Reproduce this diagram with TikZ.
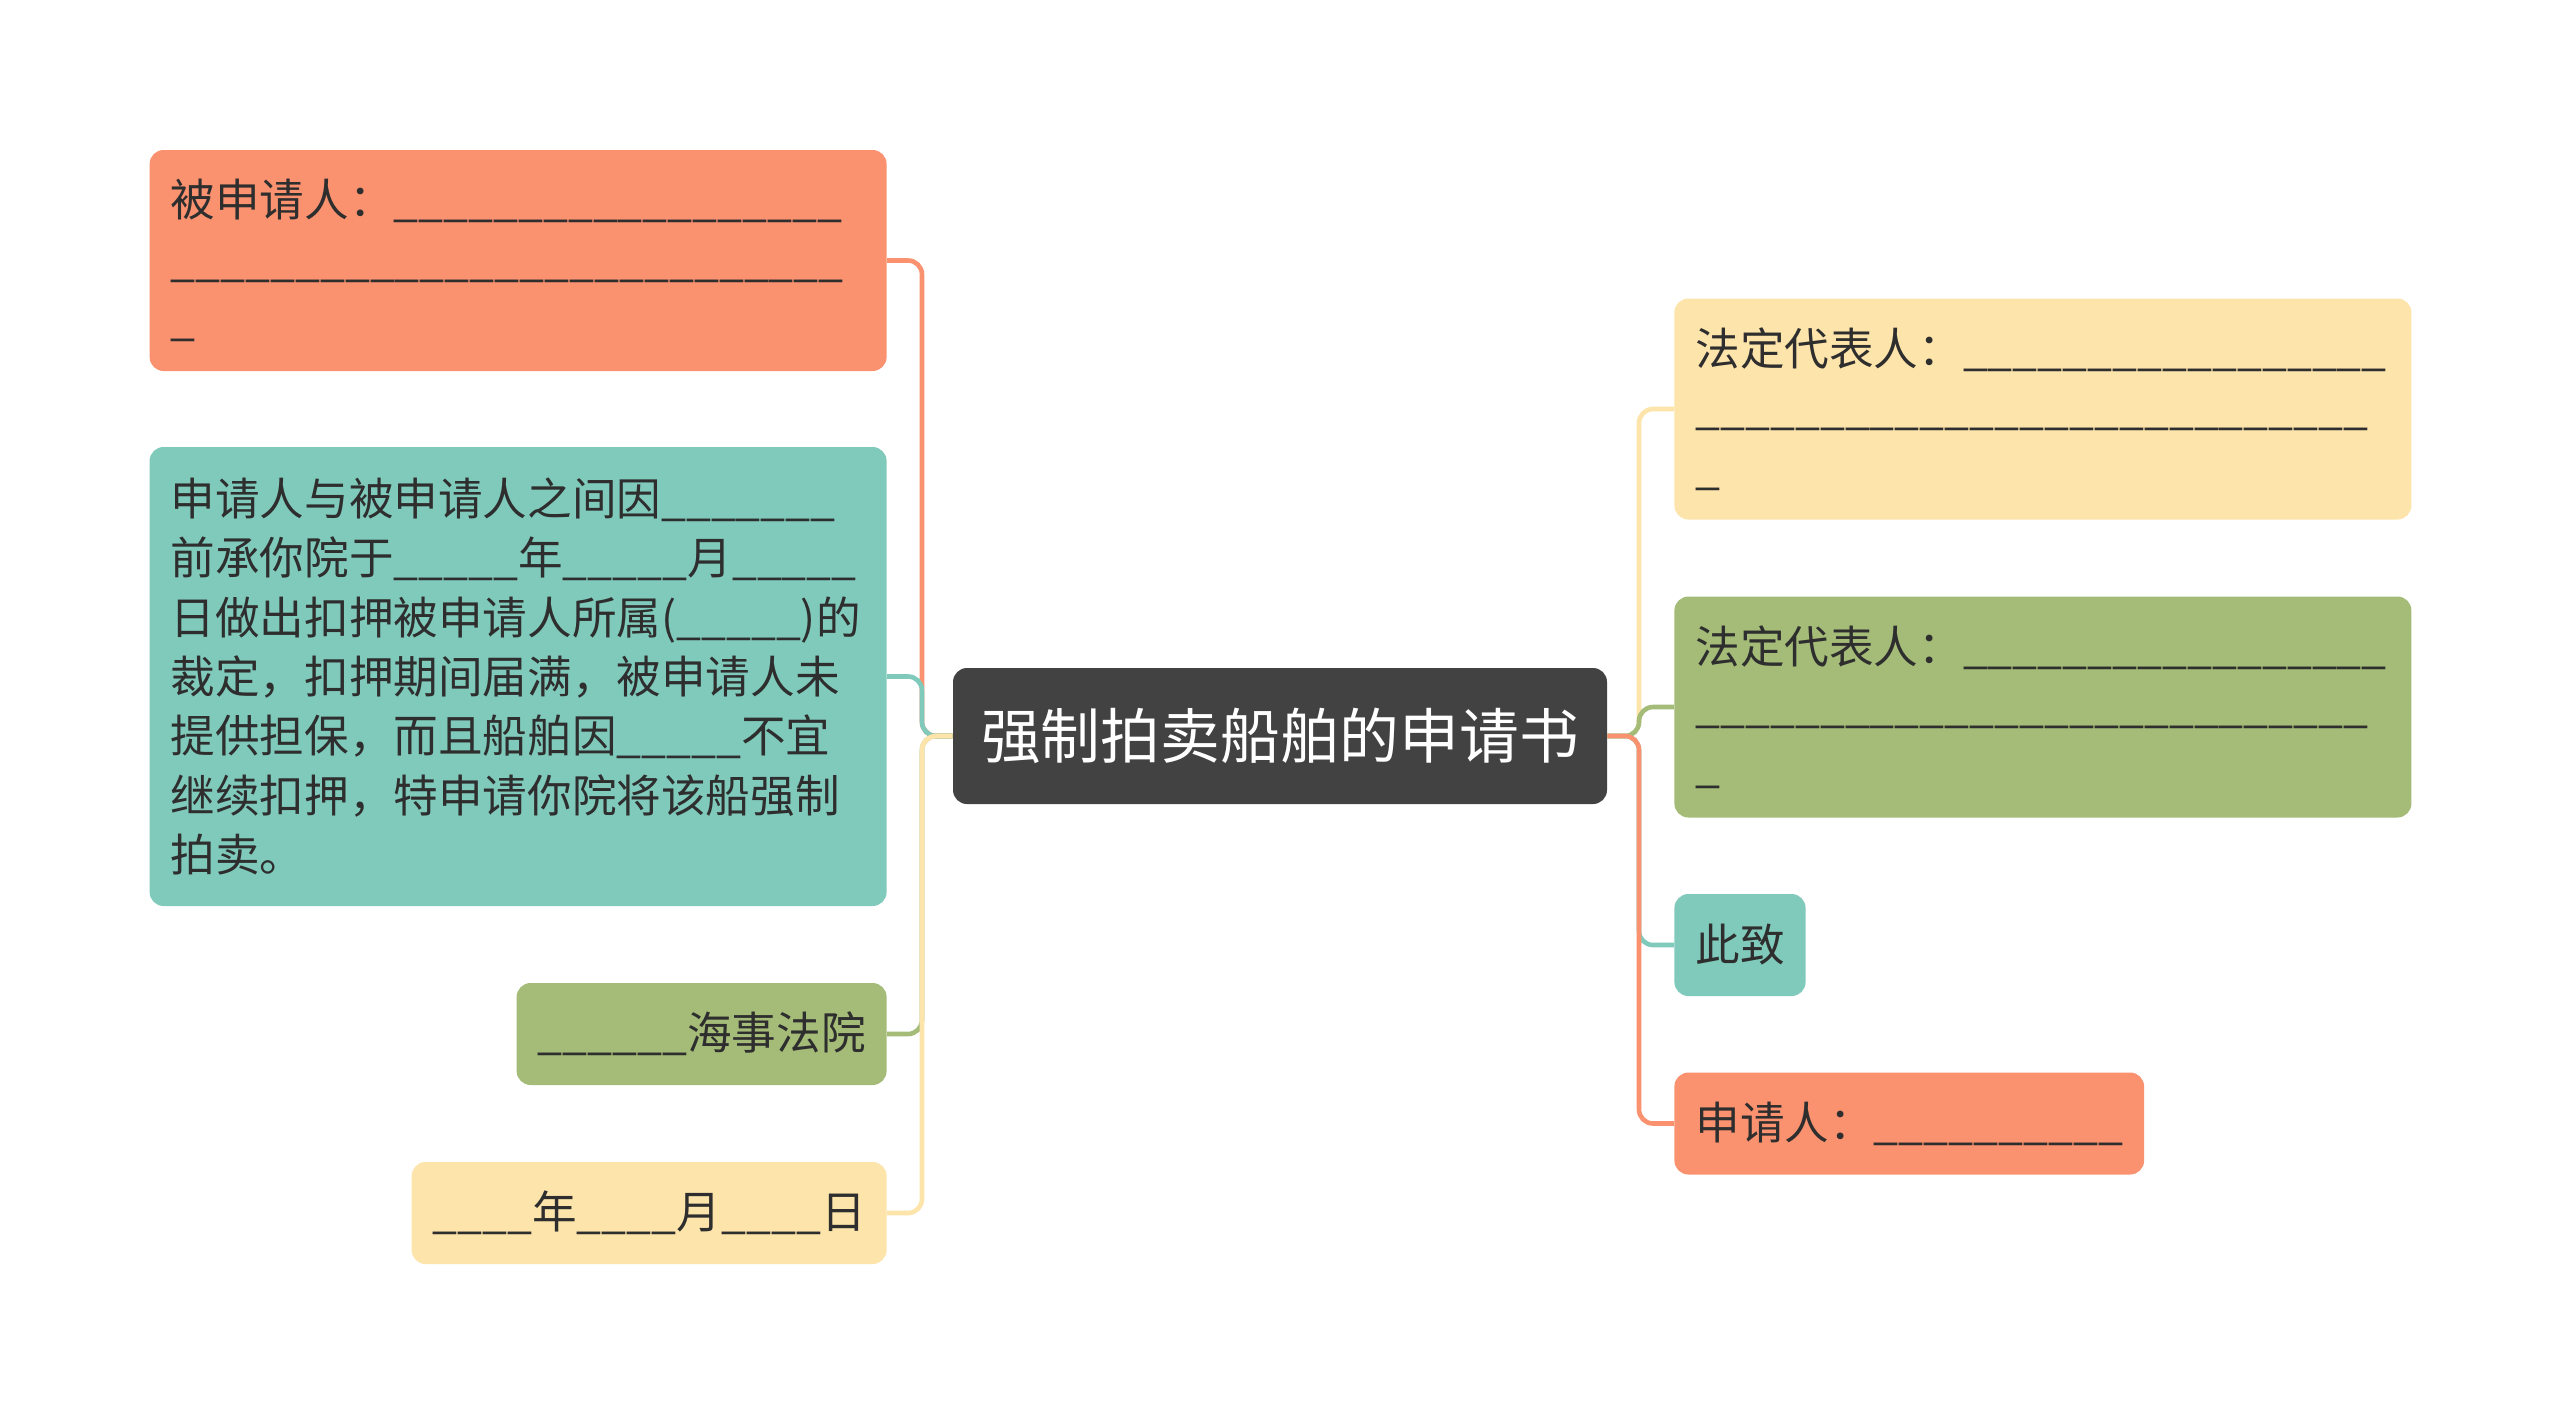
\documentclass[tikz,border=0pt]{standalone}
\usepackage{fontspec}
\newfontfamily\cjk{Noto Sans CJK SC}
\usepackage{tikz}

\definecolor{salmonc}{HTML}{FA9270}
\definecolor{tealc}{HTML}{80CABC}
\definecolor{greenc}{HTML}{A4BC78}
\definecolor{yellowc}{HTML}{FDE4AB}
\definecolor{rootc}{HTML}{424242}
\definecolor{textc}{HTML}{2E2E2E}

\newcommand{\fillin}[1]{\foreach \k in {1,...,#1}{\_}}

\tikzset{
  topic/.style={rectangle, rounded corners=7pt, text=textc, align=left,
    font=\cjk\fontsize{22.3}{29.7}\selectfont, inner xsep=10.5pt, inner ysep=0pt},
  bigtopic/.style={topic, text width=347.5pt, minimum height=110.5pt},
  smalltopic/.style={topic, minimum height=51pt},
  link/.style={line width=2.3pt, rounded corners=7pt},
}

\begin{document}
\begin{tikzpicture}[x=0.5pt, y=-0.5pt]
    \fill[white] (0,0) rectangle (2560,1414);
    \path[use as bounding box] (0,0) rectangle (2560,1414);

    % centre
    \node[rectangle, rounded corners=7pt, fill=rootc, text=white,
      font=\cjk\fontsize{29.9}{36}\selectfont,
      minimum width=327pt, minimum height=68pt] (root) at (1280,736) {强制拍卖船舶的申请书};

    % left side
    \node[bigtopic, fill=salmonc, anchor=east] (respondent) at (887,260.5)
      {被申请人：\fillin{18}\\ \fillin{27}\\ \_};
    \node[topic, fill=tealc, anchor=east, text width=347.5pt, minimum height=229.5pt] (request) at (887,676.5)
      {申请人与被申请人之间因\fillin{7}\\
       前承你院于\fillin{5}年\fillin{5}月\fillin{5}\\
       日做出扣押被申请人所属(\fillin{5})的\\
       裁定，扣押期间届满，被申请人未\\
       提供担保，而且船舶因\fillin{5}不宜\\
       继续扣押，特申请你院将该船强制\\
       拍卖。};
    \node[smalltopic, fill=greenc, anchor=east] (court) at (887,1034) {\fillin{6}海事法院};
    \node[smalltopic, fill=yellowc, anchor=east] (date) at (887,1213)
      {\fillin{4}年\fillin{4}月\fillin{4}日};

    % right side
    \node[bigtopic, fill=yellowc, anchor=west] (legalA) at (1674,409)
      {法定代表人：\fillin{17}\\ \fillin{27}\\ \_};
    \node[bigtopic, fill=greenc, anchor=west] (legalB) at (1674,707)
      {法定代表人：\fillin{17}\\ \fillin{27}\\ \_};
    \node[smalltopic, fill=tealc, anchor=west] (regards) at (1674,945) {此致};
    \node[smalltopic, fill=salmonc, anchor=west] (applicant) at (1674,1123.5)
      {申请人：\fillin{10}};

    % connectors
    \coordinate (jl) at (922,736);
    \coordinate (jr) at (1639,736);
    \draw[link, salmonc] (root.west) -- (root.west -| jl) |- (respondent.east);
    \draw[link, tealc] (root.west) -- (root.west -| jl) |- (request.east);
    \draw[link, greenc] (root.west) -- (root.west -| jl) |- (court.east);
    \draw[link, yellowc] (root.west) -- (root.west -| jl) |- (date.east);
    \draw[link, yellowc] (root.east) -- (root.east -| jr) |- (legalA.west);
    \draw[link, greenc] (root.east) -- (root.east -| jr) |- (legalB.west);
    \draw[link, tealc] (root.east) -- (root.east -| jr) |- (regards.west);
    \draw[link, salmonc] (root.east) -- (root.east -| jr) |- (applicant.west);
\end{tikzpicture}
\end{document}
